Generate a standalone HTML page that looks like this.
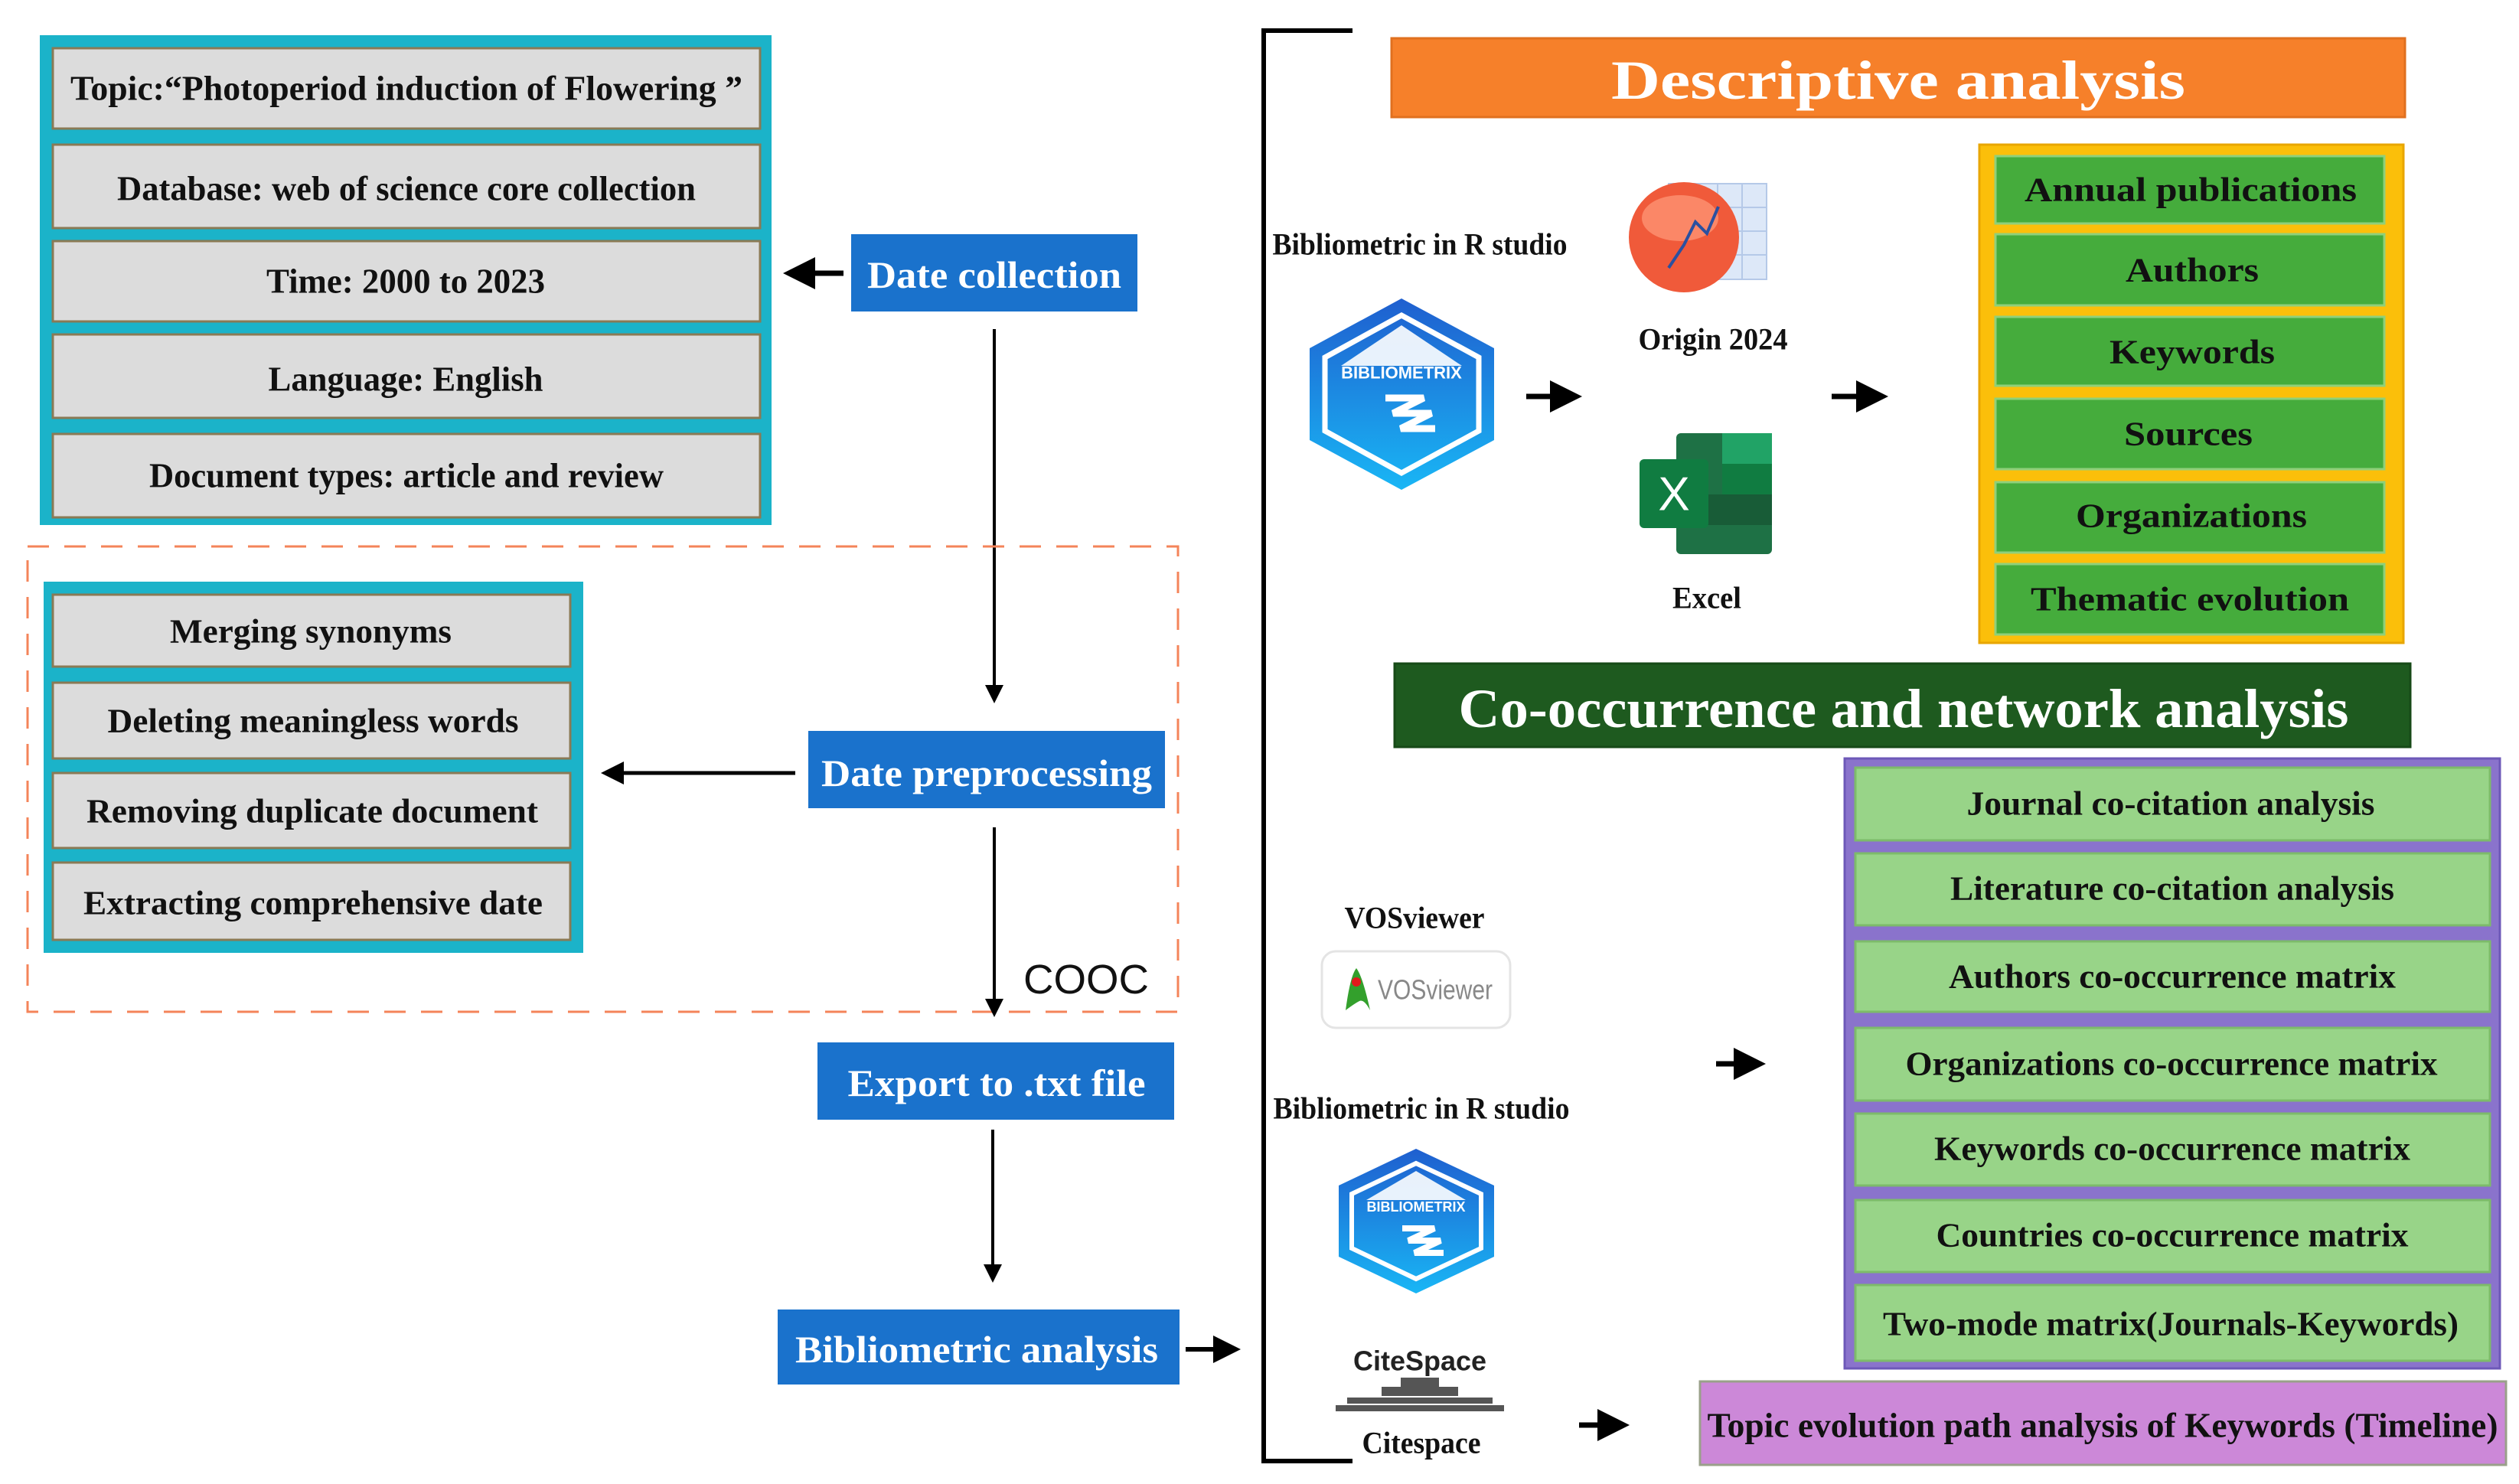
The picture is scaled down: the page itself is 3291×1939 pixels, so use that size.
<!DOCTYPE html>
<html><head><meta charset="utf-8"><style>
html,body{margin:0;padding:0;background:#fff;}
svg{display:block;}
text{font-family:"Liberation Serif",serif;font-weight:bold;dominant-baseline:central;text-anchor:middle;}
</style></head><body>
<svg width="3291" height="1939" viewBox="0 0 3291 1939" xmlns="http://www.w3.org/2000/svg">
<defs>
<marker id="ah" markerWidth="6" markerHeight="6" refX="5" refY="3" orient="auto" markerUnits="strokeWidth"><path d="M0,0 L6,3 L0,6 z" fill="#000"/></marker>
<linearGradient id="hx" x1="0" y1="0" x2="0" y2="1"><stop offset="0" stop-color="#1f5fcf"/><stop offset="1" stop-color="#19b6f5"/></linearGradient>
</defs>
<rect width="3291" height="1939" fill="#fff"/>

<!-- Left top teal box -->
<rect x="52" y="46" width="956" height="640" fill="#1bb3c9"/>
<g fill="#dcdcdc" stroke="#8a7a55" stroke-width="3">
<rect x="69" y="63" width="924" height="105"/>
<rect x="69" y="189" width="924" height="109"/>
<rect x="69" y="315" width="924" height="105"/>
<rect x="69" y="437" width="924" height="109"/>
<rect x="69" y="567" width="924" height="109"/>
</g>
<g font-size="46" fill="#111">
<text x="531" y="115" textLength="878" lengthAdjust="spacingAndGlyphs">Topic:“Photoperiod  induction of Flowering  ”</text>
<text x="531" y="246" textLength="756" lengthAdjust="spacingAndGlyphs">Database: web of science core collection</text>
<text x="530" y="367" textLength="364" lengthAdjust="spacingAndGlyphs">Time: 2000 to 2023</text>
<text x="530" y="495" textLength="359" lengthAdjust="spacingAndGlyphs">Language: English</text>
<text x="531" y="621" textLength="672" lengthAdjust="spacingAndGlyphs">Document types: article and review</text>
</g>

<!-- Date collection -->
<rect x="1112" y="306" width="374" height="101" fill="#1a72cc"/>
<text x="1299" y="359" font-size="50" fill="#fff" textLength="332" lengthAdjust="spacingAndGlyphs">Date collection</text>
<line x1="1102" y1="357" x2="1030" y2="357" stroke="#000" stroke-width="7" marker-end="url(#ah)"/>
<line x1="1299" y1="430" x2="1299" y2="915" stroke="#000" stroke-width="4" marker-end="url(#ah)"/>

<!-- dashed box -->
<rect x="36" y="714" width="1503" height="608" fill="none" stroke="#f4845a" stroke-width="3" stroke-dasharray="28,20"/>

<!-- second teal box -->
<rect x="57" y="760" width="705" height="485" fill="#1bb3c9"/>
<g fill="#dcdcdc" stroke="#8a7a55" stroke-width="3">
<rect x="69" y="777" width="676" height="94"/>
<rect x="69" y="892" width="676" height="99"/>
<rect x="69" y="1010" width="676" height="98"/>
<rect x="69" y="1127" width="676" height="101"/>
</g>
<g font-size="44" fill="#111">
<text x="406" y="825" textLength="368" lengthAdjust="spacingAndGlyphs">Merging synonyms</text>
<text x="409" y="942" textLength="537" lengthAdjust="spacingAndGlyphs">Deleting meaningless words</text>
<text x="408" y="1060" textLength="590" lengthAdjust="spacingAndGlyphs">Removing duplicate document</text>
<text x="409" y="1180" textLength="600" lengthAdjust="spacingAndGlyphs">Extracting comprehensive date</text>
</g>

<!-- Date preprocessing -->
<rect x="1056" y="955" width="466" height="101" fill="#1a72cc"/>
<text x="1289" y="1010" font-size="50" fill="#fff" textLength="432" lengthAdjust="spacingAndGlyphs">Date preprocessing</text>
<line x1="1039" y1="1010" x2="790" y2="1010" stroke="#000" stroke-width="5" marker-end="url(#ah)"/>
<line x1="1299" y1="1081" x2="1299" y2="1325" stroke="#000" stroke-width="4" marker-end="url(#ah)"/>
<text x="1419" y="1280" font-size="54" fill="#111" style="font-family:'Liberation Sans',sans-serif;font-weight:normal" textLength="164" lengthAdjust="spacingAndGlyphs">COOC</text>

<!-- Export -->
<rect x="1068" y="1362" width="466" height="101" fill="#1a72cc"/>
<text x="1302" y="1415" font-size="50" fill="#fff" textLength="389" lengthAdjust="spacingAndGlyphs">Export to .txt file</text>
<line x1="1297" y1="1476" x2="1297" y2="1672" stroke="#000" stroke-width="4" marker-end="url(#ah)"/>

<!-- Bibliometric analysis -->
<rect x="1016" y="1711" width="525" height="98" fill="#1a72cc"/>
<text x="1276" y="1763" font-size="50" fill="#fff" textLength="474" lengthAdjust="spacingAndGlyphs">Bibliometric analysis</text>
<line x1="1549" y1="1763" x2="1615" y2="1763" stroke="#000" stroke-width="6" marker-end="url(#ah)"/>

<!-- bracket -->
<polyline points="1767,40 1651,40 1651,1909 1767,1909" fill="none" stroke="#000" stroke-width="6"/>

<!-- Descriptive analysis -->
<rect x="1818" y="50" width="1324" height="103" fill="#f6802a" stroke="#e0701f" stroke-width="3"/>
<text x="2480" y="105" font-size="72" fill="#fff" textLength="750" lengthAdjust="spacingAndGlyphs">Descriptive analysis</text>

<g font-size="40" fill="#111">
<text x="1855" y="319" textLength="385" lengthAdjust="spacingAndGlyphs">Bibliometric in   R studio</text>
<text x="2238" y="443" textLength="195" lengthAdjust="spacingAndGlyphs">Origin 2024</text>
<text x="2230" y="781" textLength="90" lengthAdjust="spacingAndGlyphs">Excel</text>
</g>

<!-- Bibliometrix hex 1 -->
<g>
<polygon points="1831,390 1952,455 1952,575 1831,640 1711,575 1711,455" fill="url(#hx)"/>
<polygon points="1831,412 1932,467 1932,563 1831,618 1731,563 1731,467" fill="none" stroke="#fff" stroke-width="7"/>
<polygon points="1831,425 1910,478 1752,478" fill="#fff" opacity="0.9"/>
<text x="1831" y="487" font-size="22" fill="#fff" style="font-family:'Liberation Sans',sans-serif">BIBLIOMETRIX</text>
<path d="M1810,520 h50 l-40,20 h50 l-40,20 h45" fill="none" stroke="#fff" stroke-width="9"/>
</g>
<line x1="1994" y1="518" x2="2060" y2="518" stroke="#000" stroke-width="7" marker-end="url(#ah)"/>

<!-- Origin icon -->
<g>
<rect x="2180" y="240" width="128" height="125" fill="#dde8f8" stroke="#b5c9e8" stroke-width="2"/>
<g stroke="#b5c9e8" stroke-width="2"><line x1="2212" y1="240" x2="2212" y2="365"/><line x1="2244" y1="240" x2="2244" y2="365"/><line x1="2276" y1="240" x2="2276" y2="365"/><line x1="2180" y1="271" x2="2308" y2="271"/><line x1="2180" y1="302" x2="2308" y2="302"/><line x1="2180" y1="333" x2="2308" y2="333"/></g>
<circle cx="2200" cy="310" r="72" fill="#f05a3a"/>
<ellipse cx="2195" cy="285" rx="50" ry="30" fill="#ff9a7a" opacity="0.7"/>
<polyline points="2180,350 2200,320 2215,290 2230,305 2245,270" fill="none" stroke="#2a50a0" stroke-width="4"/>
</g>
<!-- Excel icon -->
<g>
<rect x="2190" y="566" width="125" height="158" rx="6" fill="#1e7145"/>
<rect x="2250" y="566" width="65" height="40" fill="#21a366"/>
<rect x="2250" y="606" width="65" height="40" fill="#107c41"/>
<rect x="2190" y="646" width="125" height="40" fill="#185c37"/>
<rect x="2142" y="600" width="90" height="90" rx="6" fill="#107c41"/>
<text x="2187" y="646" font-size="62" fill="#fff" style="font-family:'Liberation Sans',sans-serif;font-weight:normal">X</text>
</g>
<line x1="2393" y1="518" x2="2460" y2="518" stroke="#000" stroke-width="7" marker-end="url(#ah)"/>

<!-- yellow box -->
<rect x="2586" y="189" width="554" height="651" fill="#fbbf0a" stroke="#e8a600" stroke-width="3"/>
<g fill="#45ac3c" stroke="#8fd07a" stroke-width="3">
<rect x="2607" y="204" width="508" height="88"/>
<rect x="2607" y="306" width="508" height="93"/>
<rect x="2607" y="414" width="508" height="90"/>
<rect x="2607" y="521" width="508" height="92"/>
<rect x="2607" y="630" width="508" height="92"/>
<rect x="2607" y="737" width="508" height="92"/>
</g>
<g font-size="44" fill="#111">
<text x="2862" y="248" textLength="434" lengthAdjust="spacingAndGlyphs">Annual publications</text>
<text x="2864" y="353" textLength="174" lengthAdjust="spacingAndGlyphs">Authors</text>
<text x="2864" y="460" textLength="216" lengthAdjust="spacingAndGlyphs">Keywords</text>
<text x="2859" y="567" textLength="168" lengthAdjust="spacingAndGlyphs">Sources</text>
<text x="2863" y="674" textLength="302" lengthAdjust="spacingAndGlyphs">Organizations</text>
<text x="2861" y="783" textLength="416" lengthAdjust="spacingAndGlyphs">Thematic evolution</text>
</g>

<!-- Co-occurrence header -->
<rect x="1822" y="867" width="1327" height="109" fill="#1e5a1f" stroke="#174a17" stroke-width="3"/>
<text x="2487" y="926" font-size="72" fill="#fff" textLength="1163" lengthAdjust="spacingAndGlyphs">Co-occurrence and network analysis</text>

<!-- purple box -->
<rect x="2410" y="991" width="856" height="797" fill="#8a73cc" stroke="#6d58b8" stroke-width="3"/>
<g fill="#98d488" stroke="#7dbb6a" stroke-width="3">
<rect x="2424" y="1003" width="829" height="95"/>
<rect x="2424" y="1115" width="829" height="94"/>
<rect x="2424" y="1230" width="829" height="92"/>
<rect x="2424" y="1343" width="829" height="95"/>
<rect x="2424" y="1455" width="829" height="94"/>
<rect x="2424" y="1568" width="829" height="94"/>
<rect x="2424" y="1679" width="829" height="99"/>
</g>
<g font-size="44" fill="#111">
<text x="2836" y="1050" textLength="533" lengthAdjust="spacingAndGlyphs">Journal co-citation analysis</text>
<text x="2838" y="1161" textLength="580" lengthAdjust="spacingAndGlyphs">Literature co-citation analysis</text>
<text x="2838" y="1276" textLength="584" lengthAdjust="spacingAndGlyphs">Authors co-occurrence matrix</text>
<text x="2837" y="1390" textLength="695" lengthAdjust="spacingAndGlyphs">Organizations co-occurrence matrix</text>
<text x="2838" y="1501" textLength="622" lengthAdjust="spacingAndGlyphs">Keywords co-occurrence matrix</text>
<text x="2838" y="1614" textLength="617" lengthAdjust="spacingAndGlyphs">Countries co-occurrence matrix</text>
<text x="2836" y="1730" textLength="752" lengthAdjust="spacingAndGlyphs">Two-mode matrix(Journals-Keywords)</text>
</g>

<!-- VOSviewer -->
<g font-size="40" fill="#111">
<text x="1848" y="1199" textLength="183" lengthAdjust="spacingAndGlyphs">VOSviewer</text>
<text x="1857" y="1448" textLength="387" lengthAdjust="spacingAndGlyphs">Bibliometric in   R studio</text>
<text x="1857" y="1885" textLength="155" lengthAdjust="spacingAndGlyphs">Citespace</text>
</g>
<rect x="1727" y="1243" width="246" height="100" rx="18" fill="#fff" stroke="#e4e4e4" stroke-width="3"/>
<path d="M1758,1320 q6,-45 14,-55 q8,10 18,55 q-8,-15 -14,-12 q-6,3 -18,12z" fill="#33a02c"/>
<circle cx="1772" cy="1283" r="6" fill="#e31a1c"/>
<text x="1875" y="1293" font-size="36" fill="#888" style="font-family:'Liberation Sans',sans-serif;font-weight:normal" textLength="150" lengthAdjust="spacingAndGlyphs">VOSviewer</text>

<!-- Bibliometrix hex 2 -->
<g>
<polygon points="1850,1501 1952,1549 1952,1642 1850,1690 1749,1642 1749,1549" fill="url(#hx)"/>
<polygon points="1850,1520 1935,1560 1935,1631 1850,1671 1766,1631 1766,1560" fill="none" stroke="#fff" stroke-width="6"/>
<polygon points="1850,1530 1915,1568 1785,1568" fill="#fff" opacity="0.9"/>
<text x="1850" y="1577" font-size="18" fill="#fff" style="font-family:'Liberation Sans',sans-serif">BIBLIOMETRIX</text>
<path d="M1832,1605 h42 l-34,16 h42 l-34,16 h38" fill="none" stroke="#fff" stroke-width="8"/>
</g>

<!-- CiteSpace logo -->
<text x="1855" y="1778" font-size="36" fill="#222" style="font-family:'Liberation Sans',sans-serif">CiteSpace</text>
<g fill="#555">
<rect x="1830" y="1800" width="50" height="12"/>
<rect x="1805" y="1812" width="100" height="12"/>
<rect x="1760" y="1826" width="190" height="8"/>
<rect x="1745" y="1836" width="220" height="8"/>
</g>

<line x1="2242" y1="1390" x2="2300" y2="1390" stroke="#000" stroke-width="7" marker-end="url(#ah)"/>
<line x1="2063" y1="1862" x2="2122" y2="1862" stroke="#000" stroke-width="7" marker-end="url(#ah)"/>

<!-- Topic evolution -->
<rect x="2221" y="1805" width="1053" height="109" fill="#cc88d8" stroke="#9aa08a" stroke-width="3"/>
<text x="2747" y="1862" font-size="46" fill="#111" textLength="1033" lengthAdjust="spacingAndGlyphs">Topic evolution path analysis of Keywords (Timeline)</text>
</svg>
</body></html>
